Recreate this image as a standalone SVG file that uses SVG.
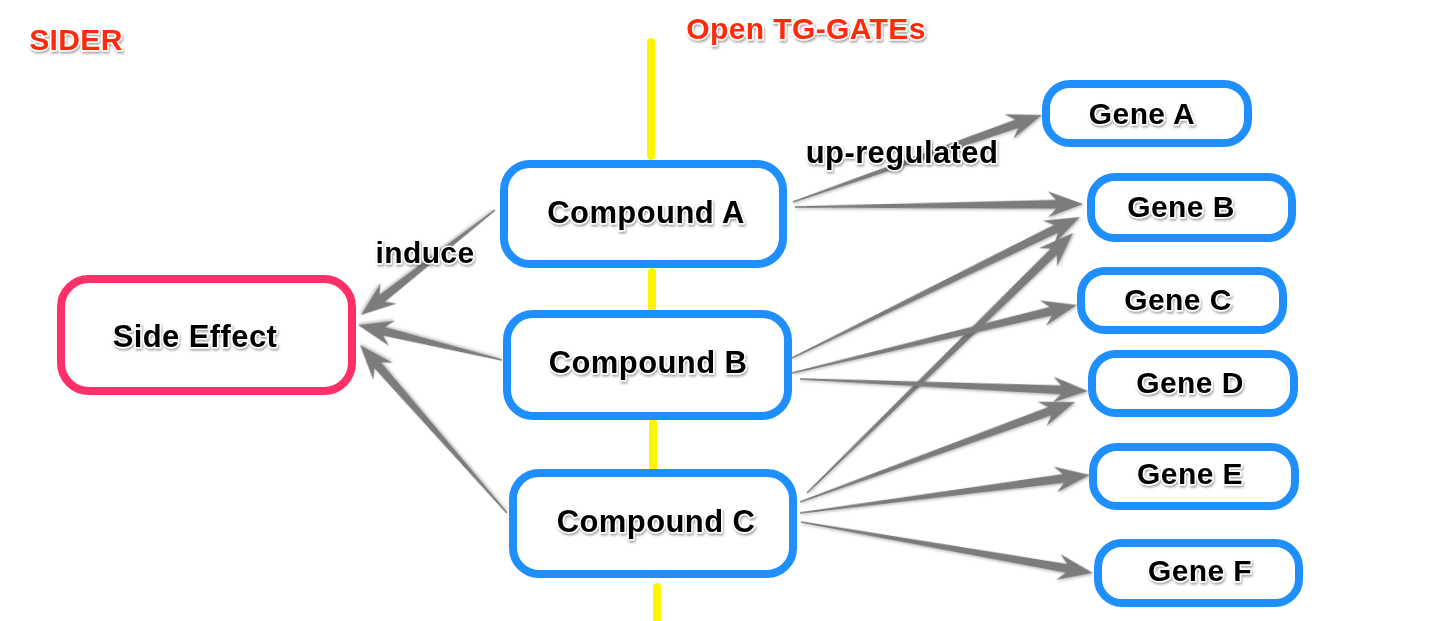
<svg xmlns="http://www.w3.org/2000/svg" width="1440" height="621" viewBox="0 0 1440 621">
<defs>
<filter id="sh" x="-20%" y="-20%" width="140%" height="140%">
<feDropShadow dx="1" dy="2" stdDeviation="1.2" flood-color="#000" flood-opacity="0.35"/>
</filter>
<filter id="ash" x="-10%" y="-50%" width="120%" height="200%">
<feDropShadow dx="1" dy="1.5" stdDeviation="0.8" flood-color="#000" flood-opacity="0.25"/>
</filter>
<style>
.t{font-family:"Liberation Sans",Arial,sans-serif;font-weight:bold;font-size:30px;letter-spacing:0.4px;fill:#000;stroke:#fff;stroke-width:3px;paint-order:stroke;stroke-linejoin:round;filter:url(#sh);text-anchor:middle}
.red{fill:#ff2a0a}
.cmp{fill:#fff;stroke:#1e8ffc;stroke-width:8}
.gene{fill:#fff;stroke:#1e8ffc;stroke-width:8}
.se{fill:#fff;stroke:#ff3068;stroke-width:8}
.yl{stroke:#fff500;stroke-width:8;stroke-linecap:round}
.ar{fill:#7b7b7b;filter:url(#ash)}
</style>
</defs>
<rect width="1440" height="621" fill="#fff"/>
<g id="divider">
<line class="yl" x1="651" y1="42" x2="651" y2="156"/>
<line class="yl" x1="652" y1="272" x2="652" y2="309"/>
<line class="yl" x1="653" y1="423" x2="653" y2="469"/>
<line class="yl" x1="657" y1="587" x2="657" y2="625"/>
</g>
<g id="connectors">
<polygon class="ar" transform="translate(793,202) rotate(-19.26)" points="0,-0.8 236.8,-4.5 228.8,-13 263.8,0 228.8,13 236.8,4.5 0,0.8"/>
<polygon class="ar" transform="translate(795,207) rotate(-0.6)" points="0,-0.8 261,-4.5 253,-13 288,0 253,13 261,4.5 0,0.8"/>
<polygon class="ar" transform="translate(792,358) rotate(-26.08)" points="0,-0.8 293.7,-4.5 285.7,-13 320.7,0 285.7,13 293.7,4.5 0,0.8"/>
<polygon class="ar" transform="translate(807,493) rotate(-44.35)" points="0,-0.8 345,-4.5 337,-13 372,0 337,13 345,4.5 0,0.8"/>
<polygon class="ar" transform="translate(792,373) rotate(-13.42)" points="0,-0.8 266,-4.5 258,-13 293,0 258,13 266,4.5 0,0.8"/>
<polygon class="ar" transform="translate(800,379) rotate(2.39)" points="0,-0.8 261.2,-4.5 253.2,-13 288.2,0 253.2,13 261.2,4.5 0,0.8"/>
<polygon class="ar" transform="translate(800,502) rotate(-19.98)" points="0,-0.8 265.6,-4.5 257.6,-13 292.6,0 257.6,13 265.6,4.5 0,0.8"/>
<polygon class="ar" transform="translate(800,513) rotate(-7.47)" points="0,-0.8 265.5,-4.5 257.5,-13 292.5,0 257.5,13 265.5,4.5 0,0.8"/>
<polygon class="ar" transform="translate(801,522) rotate(9.91)" points="0,-0.8 269.4,-4.5 261.4,-13 296.4,0 261.4,13 269.4,4.5 0,0.8"/>
<polygon class="ar" transform="translate(495,210) rotate(141.92)" points="0,-0.8 143.2,-4.5 135.2,-13 170.2,0 135.2,13 143.2,4.5 0,0.8"/>
<polygon class="ar" transform="translate(502,360) rotate(-166.34)" points="0,-0.8 121.2,-4.5 113.2,-13 148.2,0 113.2,13 121.2,4.5 0,0.8"/>
<polygon class="ar" transform="translate(507,513) rotate(-131.19)" points="0,-0.8 196.2,-4.5 188.2,-13 223.2,0 188.2,13 196.2,4.5 0,0.8"/>
</g>
<g id="sider"><text class="t red" x="76" y="50">SIDER</text></g>
<g id="tggates"><text class="t red" x="806" y="39">Open TG-GATEs</text></g>
<g id="side-effect">
<rect class="se" x="61" y="279" width="291" height="112" rx="28"/>
<text class="t" x="195" y="347" style="font-size:31px">Side Effect</text>
</g>
<g id="compound-a">
<rect class="cmp" x="504" y="164" width="279" height="100" rx="26"/>
<text class="t" x="646" y="223" style="font-size:31px">Compound A</text>
</g>
<g id="compound-b">
<rect class="cmp" x="507" y="314" width="281" height="102" rx="26"/>
<text class="t" x="648" y="373" style="font-size:31px">Compound B</text>
</g>
<g id="compound-c">
<rect class="cmp" x="513" y="473" width="280" height="101" rx="26"/>
<text class="t" x="656" y="532" style="font-size:31px">Compound C</text>
</g>
<g id="gene-a">
<rect class="gene" x="1046" y="84" width="202" height="59" rx="24"/>
<text class="t" x="1142" y="124">Gene A</text>
</g>
<g id="gene-b">
<rect class="gene" x="1091" y="177" width="201" height="61" rx="24"/>
<text class="t" x="1181" y="217">Gene B</text>
</g>
<g id="gene-c">
<rect class="gene" x="1081" y="271" width="202" height="59" rx="24"/>
<text class="t" x="1178" y="310">Gene C</text>
</g>
<g id="gene-d">
<rect class="gene" x="1092" y="354" width="202" height="59" rx="24"/>
<text class="t" x="1190" y="393">Gene D</text>
</g>
<g id="gene-e">
<rect class="gene" x="1093" y="447" width="202" height="59" rx="24"/>
<text class="t" x="1190" y="484">Gene E</text>
</g>
<g id="gene-f">
<rect class="gene" x="1098" y="543" width="201" height="60" rx="24"/>
<text class="t" x="1200" y="581">Gene F</text>
</g>
<g id="labels">
<text class="t" x="425" y="263">induce</text>
<text class="t" x="902" y="163" style="font-size:31px">up-regulated</text>
</g>
</svg>
